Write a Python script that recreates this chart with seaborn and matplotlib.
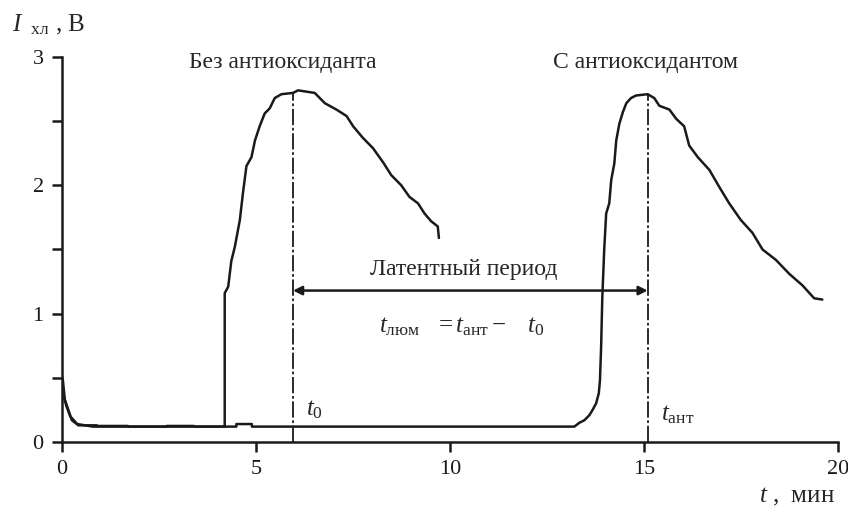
import matplotlib
matplotlib.use("Agg")
import matplotlib.pyplot as plt
import seaborn as sns
import pandas as pd

# ---- data ----
t_no_antiox = [0.0, 0.03, 0.08, 0.17, 0.26, 0.43, 0.9, 0.91, 1.7, 1.71, 2.7, 2.71, 3.4, 3.41,
               4.2, 4.2, 4.29, 4.37, 4.46, 4.59, 4.67, 4.76, 4.89, 4.98, 5.10, 5.23, 5.36,
               5.49, 5.66, 5.96, 6.09, 6.52, 6.78, 7.08, 7.34, 7.51, 7.76, 8.02, 8.28, 8.49,
               8.75, 8.96, 9.18, 9.35, 9.52, 9.69, 9.72]
i_no_antiox = [0.52, 0.48, 0.33, 0.25, 0.17, 0.13, 0.13, 0.125, 0.125, 0.12, 0.12, 0.125, 0.125, 0.12,
               0.12, 1.16, 1.21, 1.41, 1.52, 1.73, 1.94, 2.15, 2.22, 2.35, 2.46, 2.56, 2.60,
               2.68, 2.71, 2.72, 2.74, 2.72, 2.64, 2.59, 2.54, 2.46, 2.37, 2.29, 2.18, 2.08,
               2.00, 1.91, 1.86, 1.78, 1.72, 1.68, 1.59]

t_antiox = [0.0, 0.05, 0.12, 0.22, 0.4, 0.8, 4.5, 4.5, 4.9, 4.9, 13.21, 13.34, 13.47, 13.6,
            13.68, 13.77, 13.84, 13.87, 13.9, 13.93, 13.98, 14.03, 14.11, 14.16, 14.24,
            14.29, 14.37, 14.46, 14.55, 14.67, 14.8, 15.1, 15.27, 15.4, 15.66, 15.83, 16.04,
            16.17, 16.39, 16.69, 16.94, 17.2, 17.5, 17.8, 18.06, 18.4, 18.75, 19.09, 19.39,
            19.6]
i_antiox = [0.50, 0.36, 0.28, 0.2, 0.14, 0.12, 0.12, 0.14, 0.14, 0.12, 0.12, 0.15, 0.17, 0.21,
            0.25, 0.30, 0.38, 0.48, 0.74, 1.12, 1.50, 1.78, 1.86, 2.04, 2.17,
            2.35, 2.48, 2.57, 2.64, 2.68, 2.70, 2.71, 2.68, 2.62, 2.59, 2.52, 2.46,
            2.31, 2.22, 2.12, 1.99, 1.86, 1.73, 1.63, 1.50, 1.42, 1.31, 1.22, 1.12,
            1.11]

t0 = 5.96          # peak time without antioxidant
t_ant = 15.1       # peak time with antioxidant
peak_no = 2.73
peak_ant = 2.71
arrow_level = 1.18

x_ticks = [0, 5, 10, 15, 20]
y_ticks = [0, 0.5, 1, 1.5, 2, 2.5, 3]
y_ticklabels = ["0", "", "1", "", "2", "", "3"]

series_names = ["Без антиоксиданта", "С антиоксидантом"]

df = pd.concat([
    pd.DataFrame({"t": t_no_antiox, "I": i_no_antiox, "s": series_names[0]}),
    pd.DataFrame({"t": t_antiox, "I": i_antiox, "s": series_names[1]}),
], ignore_index=True)

# ---- style ----
sns.set_style("ticks")
plt.rcParams["font.family"] = ["Liberation Serif", "DejaVu Serif"]
plt.rcParams["mathtext.fontset"] = "custom"
plt.rcParams["mathtext.rm"] = "Liberation Serif"
plt.rcParams["mathtext.it"] = "Liberation Serif:italic"
plt.rcParams["mathtext.bf"] = "Liberation Serif:bold"

fig = plt.figure(figsize=(8.48, 5.12), dpi=100)
ax = fig.add_axes([0.0728, 0.1367, 0.9152, 0.752])

sns.lineplot(data=df, x="t", y="I", units="s", estimator=None, sort=False,
             color="#1a1a1a", linewidth=1.8, ax=ax, legend=False)

# dashed vertical markers
dash = (0, (9, 1.5, 1.5, 1.5))
ax.plot([t0, t0], [0, peak_no], color="#1a1a1a", lw=1.3, linestyle=dash)
ax.plot([t_ant, t_ant], [0, peak_ant], color="#1a1a1a", lw=1.3, linestyle=dash)

# double arrow
ax.annotate("", xy=(t0, arrow_level), xytext=(t_ant, arrow_level),
            arrowprops=dict(arrowstyle="<|-|>", color="#1a1a1a", lw=1.8,
                            mutation_scale=13, shrinkA=0, shrinkB=0))

fs = 17
ax.text(10.35, 1.345, "Латентный период", ha="center", va="center", fontsize=fs)
ax.text(10.3, 0.90, r"$t_{\mathrm{люм}}\quad\!=t_{\mathrm{ант}}-\quad t_0$",
        ha="center", va="center", fontsize=fs + 1)
ax.text(5.7, 2.96, series_names[0], ha="center", va="center", fontsize=fs)
ax.text(15.05, 2.96, series_names[1], ha="center", va="center", fontsize=fs)
ax.text(6.3, 0.25, r"$t_0$", ha="left", va="center", fontsize=fs + 1)
ax.text(15.45, 0.21, r"$t_{\mathrm{ант}}$", ha="left", va="center", fontsize=fs + 1)

# axes
ax.set_xlim(0, 20)
ax.set_ylim(0, 3)
ax.set_xticks(x_ticks)
ax.set_xticklabels([str(v) for v in x_ticks])
ax.set_yticks(y_ticks)
ax.set_yticklabels(y_ticklabels)
ax.tick_params(axis="both", direction="out", length=7, width=1.8, labelsize=16,
               color="#1a1a1a", labelcolor="#1a1a1a", pad=6)
for sp in ["top", "right"]:
    ax.spines[sp].set_visible(False)
for sp in ["left", "bottom"]:
    ax.spines[sp].set_linewidth(1.8)
    ax.spines[sp].set_color("#1a1a1a")
ax.set_xlabel("")
ax.set_ylabel("")

fig.text(0.014, 0.952, r"$I_{\;\;\;\mathrm{хл}}$ , В", ha="left", va="center", fontsize=fs + 1)
fig.text(0.985, 0.03, r"$t$ ,  мин", ha="right", va="center", fontsize=fs + 1)

fig.savefig("out.png", dpi=100)
